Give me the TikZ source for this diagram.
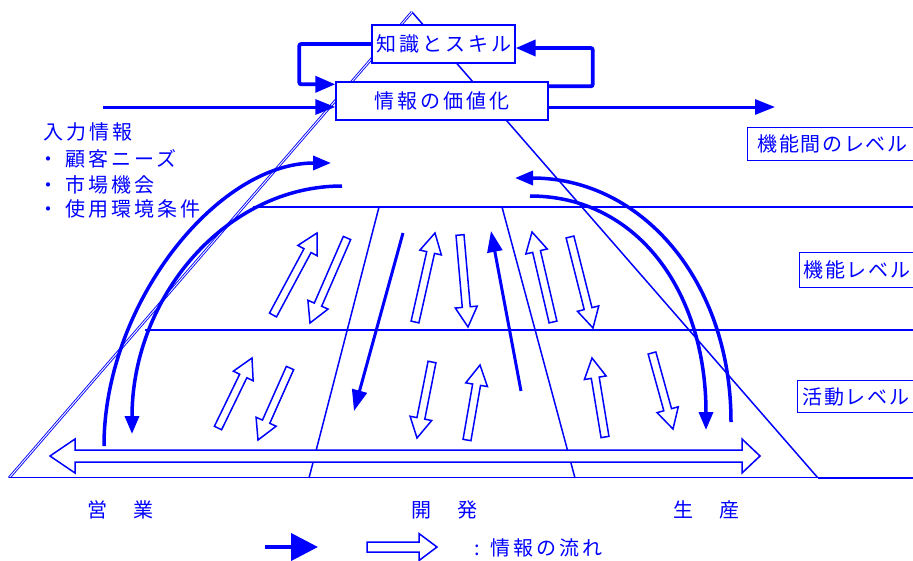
\documentclass[tikz,border=0pt]{standalone}
\usepackage{fontspec}
\setmainfont{Noto Sans CJK JP}[LetterSpace=15]
\usetikzlibrary{arrows.meta,calc}
\definecolor{myblue}{RGB}{0,0,255}
\tikzset{
  thinline/.style={draw=myblue, line width=1.5pt},
  dblline/.style={draw=myblue, double=white, double distance=0.9pt, line width=0.9pt},
  box/.style={draw=myblue, line width=1.4pt, fill=white, text=myblue, inner sep=0pt},
  lvlbox/.style={box, anchor=north west, text width=180pt, align=left,
    font=\fontsize{20}{23}\selectfont\addfontfeature{LetterSpace=8}},
  txt/.style={text=myblue, inner sep=0pt},
  hollow/.style={draw=myblue, line width=1.5pt, fill=white, line join=miter},
  flowarrow/.style={draw=myblue, line width=3pt, -{Triangle[length=20pt,width=15pt]}},
  looparrow/.style={draw=myblue, line width=3.8pt, rounded corners=2pt, -{Triangle[length=20pt,width=16pt]}},
  curvearrow/.style={draw=myblue, line width=3.5pt, -{Triangle[length=18pt,width=14pt]}},
  straightarrow/.style={draw=myblue, line width=3pt, -{Triangle[length=21pt,width=15pt]}},
}
\newcommand{\hollowarr}[2]{%
  \coordinate (hbase) at ($(#2)!20pt!(#1)$);
  \draw[hollow] ($(#1)!4pt!90:(#2)$) -- ($(hbase)!4pt!90:(#2)$) -- ($(hbase)!11pt!90:(#2)$) -- (#2)
    -- ($(hbase)!11pt!-90:(#2)$) -- ($(hbase)!4pt!-90:(#2)$) -- ($(#1)!4pt!-90:(#2)$) -- cycle;}
\begin{document}
\begin{tikzpicture}[x=1pt,y=-1pt,font=\fontsize{20}{23}\selectfont]
\useasboundingbox (0,0) rectangle (913,560);
\fill[white] (0,0) rectangle (913,560);
\clip (0,0) rectangle (913,560);

% triangle
\coordinate (apex) at (412,12);
\coordinate (bl) at (9,478);
\coordinate (br) at (818,478);
\coordinate (rend) at (913,478);
\draw[thinline] (apex) -- (br);
\draw[dblline] (bl) -- (apex);
\draw[dblline] (bl) -- (br);
\draw[thinline] (br) -- (rend);

% level lines
\coordinate (l1s) at (253,207); \coordinate (l1e) at (913,207);
\coordinate (l2s) at (145,330); \coordinate (l2e) at (913,330);
\draw[thinline] (l1s) -- (l1e);
\draw[thinline] (l2s) -- (l2e);
% dividers
\coordinate (d1t) at (379,207); \coordinate (d1b) at (309,478);
\coordinate (d2t) at (502,207); \coordinate (d2b) at (575,478);
\draw[thinline] (d1t) -- (d1b);
\draw[thinline] (d2t) -- (d2b);

% boxes
\node[box, minimum width=143pt, minimum height=38pt] (know) at (443.5,44) {知識とスキル};
\node[box, minimum width=212pt, minimum height=38pt] (value) at (442,101) {情報の価値化};

\node[lvlbox, inner xsep=10pt, minimum height=33pt] (lvla) at (747,127) {機能間のレベル};
\node[lvlbox, inner xsep=4pt, minimum height=35pt] (lvlb) at (799,252) {機能レベル};
\node[lvlbox, inner xsep=5pt, minimum height=32pt] (lvlc) at (797,380) {活動レベル};

% left text
\node[txt, anchor=west] (inp) at (43,132) {入力情報};
\node[txt, anchor=west] (ba) at (38,159) {\makebox[27pt][l]{・}顧客ニーズ};
\node[txt, anchor=west] (bb) at (38,185) {\makebox[27pt][l]{・}市場機会};
\node[txt, anchor=west] (bc) at (38,209) {\makebox[27pt][l]{・}使用環境条件};

% bottom labels
\node[txt] (eig) at (120,510) {営　業};
\node[txt] (kai) at (444,510) {開　発};
\node[txt] (sei) at (706,510) {生　産};

% input / output
\coordinate (inS) at (103,107);
\coordinate (outE) at (775,107);
\draw[flowarrow] (inS) -- ($(value.west)+(0,6)$);
\draw[flowarrow] ($(value.east)+(0,6)$) -- (outE);

% feedback loops
\draw[looparrow] (know.west) -- ++(-72,0) |- ($(value.north west)+(0,3)$);
\draw[looparrow] ($(value.north east)+(0,5)$) -- ++(44,0) |- ($(know.east)+(0,4)$);

% big curves
\coordinate (L1s) at (104,446); \coordinate (L1e) at (331,163);
\draw[curvearrow] (L1s) .. controls (104,304) and (217,163) .. (L1e);
\coordinate (L2s) at (342,186); \coordinate (L2e) at (132,434);
\draw[curvearrow] (L2s) .. controls (226,186) and (132,297) .. (L2e);
\coordinate (R1s) at (731,422); \coordinate (R1e) at (515,178);
\draw[curvearrow] (R1s) .. controls (731,280) and (641,178) .. (R1e);
\coordinate (R2s) at (530,196); \coordinate (R2e) at (706,430);
\draw[curvearrow] (R2s) .. controls (636,196) and (706,290) .. (R2e);

% straight filled arrows
\coordinate (A1s) at (403,233); \coordinate (A1e) at (354,411);
\draw[straightarrow] (A1s) -- (A1e);
\coordinate (A2s) at (521,391); \coordinate (A2e) at (491,231);
\draw[straightarrow] (A2s) -- (A2e);

% hollow arrows
\coordinate (h1t) at (273,315); \coordinate (h1h) at (317,233); \hollowarr{h1t}{h1h}
\coordinate (h2t) at (347,238); \coordinate (h2h) at (310,323); \hollowarr{h2t}{h2h}
\coordinate (h3t) at (415,322); \coordinate (h3h) at (435,233); \hollowarr{h3t}{h3h}
\coordinate (h4t) at (460,235); \coordinate (h4h) at (468,327); \hollowarr{h4t}{h4h}
\coordinate (h5t) at (553,322); \coordinate (h5h) at (532,232); \hollowarr{h5t}{h5h}
\coordinate (h6t) at (570,237); \coordinate (h6h) at (593,328); \hollowarr{h6t}{h6h}
\coordinate (h7t) at (218,428); \coordinate (h7h) at (252,358); \hollowarr{h7t}{h7h}
\coordinate (h8t) at (290,368); \coordinate (h8h) at (258,440); \hollowarr{h8t}{h8h}
\coordinate (h9t) at (432,362); \coordinate (h9h) at (417,438); \hollowarr{h9t}{h9h}
\coordinate (h10t) at (467,440); \coordinate (h10h) at (480,365); \hollowarr{h10t}{h10h}
\coordinate (h11t) at (605,437); \coordinate (h11h) at (592,358); \hollowarr{h11t}{h11h}
\coordinate (h12t) at (652,353); \coordinate (h12h) at (673,429); \hollowarr{h12t}{h12h}

% bottom double block arrow
\coordinate (dl) at (50,456); \coordinate (dr) at (760,456);
\draw[hollow] (dl) -- (75,439) -- (75,450) -- (742,450) -- (742,439) -- (dr)
  -- (742,473) -- (742,462) -- (75,462) -- (75,473) -- cycle;

% legend
\coordinate (lf1) at (265,547); \coordinate (lf2) at (318,547);
\draw[draw=myblue, line width=4pt, -{Triangle[length=27pt,width=27pt]}] (lf1) -- (lf2);
\coordinate (lh1) at (367,547); \coordinate (lh2) at (437,547);
\draw[hollow] (lh1 |- 0,542) -- (419,542) -- (419,533.5) -- (lh2) -- (419,560.5) -- (419,552) -- (lh1 |- 0,552) -- cycle;
\node[txt, anchor=west] (leg) at (474,548) {:\hspace{11pt}情報の流れ};
\end{tikzpicture}
\end{document}
